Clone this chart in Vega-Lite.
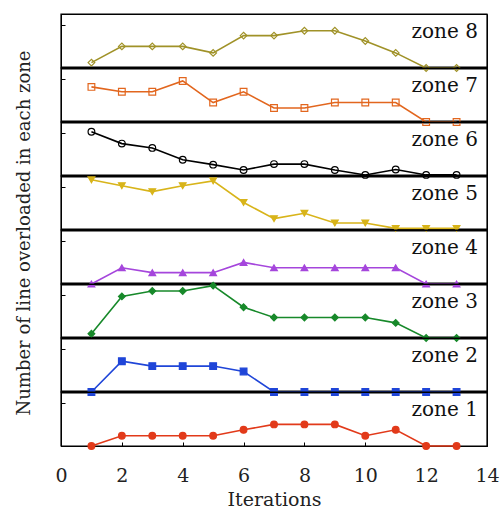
{
  "$schema": "https://vega.github.io/schema/vega-lite/v6.json",
  "padding": {"left": 15, "top": 12, "right": 14, "bottom": 3},
  "background": "white",
  "bounds": "flush",
  "config": {
    "font": "DejaVu Serif",
    "view": {"stroke": "black", "strokeWidth": 1},
    "axis": {"labelFont": "DejaVu Serif", "titleFont": "DejaVu Serif", "labelColor": "#222", "titleColor": "#222", "domainColor": "black", "tickColor": "black", "grid": false, "titleFontWeight": "normal"}
  },
  "data": {"values": [
    {"zone":"zone 8","iter":1,"v":0.5},{"zone":"zone 8","iter":2,"v":2},{"zone":"zone 8","iter":3,"v":2},{"zone":"zone 8","iter":4,"v":2},{"zone":"zone 8","iter":5,"v":1.4},{"zone":"zone 8","iter":6,"v":3},{"zone":"zone 8","iter":7,"v":3},{"zone":"zone 8","iter":8,"v":3.45},{"zone":"zone 8","iter":9,"v":3.45},{"zone":"zone 8","iter":10,"v":2.5},{"zone":"zone 8","iter":11,"v":1.4},{"zone":"zone 8","iter":12,"v":0},{"zone":"zone 8","iter":13,"v":0},
    {"zone":"zone 7","iter":1,"v":3.25},{"zone":"zone 7","iter":2,"v":2.8},{"zone":"zone 7","iter":3,"v":2.8},{"zone":"zone 7","iter":4,"v":3.8},{"zone":"zone 7","iter":5,"v":1.8},{"zone":"zone 7","iter":6,"v":2.8},{"zone":"zone 7","iter":7,"v":1.3},{"zone":"zone 7","iter":8,"v":1.3},{"zone":"zone 7","iter":9,"v":1.8},{"zone":"zone 7","iter":10,"v":1.8},{"zone":"zone 7","iter":11,"v":1.8},{"zone":"zone 7","iter":12,"v":0},{"zone":"zone 7","iter":13,"v":0},
    {"zone":"zone 6","iter":1,"v":4.1},{"zone":"zone 6","iter":2,"v":3.0},{"zone":"zone 6","iter":3,"v":2.6},{"zone":"zone 6","iter":4,"v":1.5},{"zone":"zone 6","iter":5,"v":1.05},{"zone":"zone 6","iter":6,"v":0.55},{"zone":"zone 6","iter":7,"v":1.1},{"zone":"zone 6","iter":8,"v":1.1},{"zone":"zone 6","iter":9,"v":0.55},{"zone":"zone 6","iter":10,"v":0.1},{"zone":"zone 6","iter":11,"v":0.6},{"zone":"zone 6","iter":12,"v":0.1},{"zone":"zone 6","iter":13,"v":0.1},
    {"zone":"zone 5","iter":1,"v":4.65},{"zone":"zone 5","iter":2,"v":4.1},{"zone":"zone 5","iter":3,"v":3.55},{"zone":"zone 5","iter":4,"v":4.1},{"zone":"zone 5","iter":5,"v":4.55},{"zone":"zone 5","iter":6,"v":2.55},{"zone":"zone 5","iter":7,"v":1.05},{"zone":"zone 5","iter":8,"v":1.55},{"zone":"zone 5","iter":9,"v":0.65},{"zone":"zone 5","iter":10,"v":0.65},{"zone":"zone 5","iter":11,"v":0.15},{"zone":"zone 5","iter":12,"v":0.15},{"zone":"zone 5","iter":13,"v":0.15},
    {"zone":"zone 4","iter":1,"v":0},{"zone":"zone 4","iter":2,"v":1.5},{"zone":"zone 4","iter":3,"v":1.05},{"zone":"zone 4","iter":4,"v":1.05},{"zone":"zone 4","iter":5,"v":1.05},{"zone":"zone 4","iter":6,"v":2.0},{"zone":"zone 4","iter":7,"v":1.5},{"zone":"zone 4","iter":8,"v":1.5},{"zone":"zone 4","iter":9,"v":1.5},{"zone":"zone 4","iter":10,"v":1.5},{"zone":"zone 4","iter":11,"v":1.5},{"zone":"zone 4","iter":12,"v":0},{"zone":"zone 4","iter":13,"v":0},
    {"zone":"zone 3","iter":1,"v":0.4},{"zone":"zone 3","iter":2,"v":3.85},{"zone":"zone 3","iter":3,"v":4.35},{"zone":"zone 3","iter":4,"v":4.35},{"zone":"zone 3","iter":5,"v":4.85},{"zone":"zone 3","iter":6,"v":2.85},{"zone":"zone 3","iter":7,"v":1.9},{"zone":"zone 3","iter":8,"v":1.9},{"zone":"zone 3","iter":9,"v":1.9},{"zone":"zone 3","iter":10,"v":1.9},{"zone":"zone 3","iter":11,"v":1.4},{"zone":"zone 3","iter":12,"v":0},{"zone":"zone 3","iter":13,"v":0},
    {"zone":"zone 2","iter":1,"v":0},{"zone":"zone 2","iter":2,"v":2.85},{"zone":"zone 2","iter":3,"v":2.4},{"zone":"zone 2","iter":4,"v":2.4},{"zone":"zone 2","iter":5,"v":2.4},{"zone":"zone 2","iter":6,"v":1.9},{"zone":"zone 2","iter":7,"v":0},{"zone":"zone 2","iter":8,"v":0},{"zone":"zone 2","iter":9,"v":0},{"zone":"zone 2","iter":10,"v":0},{"zone":"zone 2","iter":11,"v":0},{"zone":"zone 2","iter":12,"v":0},{"zone":"zone 2","iter":13,"v":0},
    {"zone":"zone 1","iter":1,"v":0},{"zone":"zone 1","iter":2,"v":0.95},{"zone":"zone 1","iter":3,"v":0.95},{"zone":"zone 1","iter":4,"v":0.95},{"zone":"zone 1","iter":5,"v":0.95},{"zone":"zone 1","iter":6,"v":1.5},{"zone":"zone 1","iter":7,"v":2},{"zone":"zone 1","iter":8,"v":2},{"zone":"zone 1","iter":9,"v":2},{"zone":"zone 1","iter":10,"v":0.95},{"zone":"zone 1","iter":11,"v":1.5},{"zone":"zone 1","iter":12,"v":0},{"zone":"zone 1","iter":13,"v":0}
  ]},
  "facet": {
    "row": {
      "field": "zone", "type": "nominal",
      "sort": ["zone 8","zone 7","zone 6","zone 5","zone 4","zone 3","zone 2","zone 1"],
      "title": "Number of line overloaded in each zone",
      "header": {"labels": false, "titleFont": "DejaVu Serif", "titleFontSize": 18, "titleFontWeight": "normal", "titleColor": "#222", "titlePadding": 16}
    }
  },
  "spacing": 0,
  "spec": {
    "width": 426,
    "height": 54,
    "layer": [
      {
        "transform": [{"filter": "datum.iter == 1"}],
        "mark": {"type": "rect", "fill": null, "fillOpacity": 0, "stroke": "black", "strokeWidth": 1.2},
        "encoding": {"x": {"datum": 0, "type": "quantitative"}, "x2": {"datum": 14}, "y": {"datum": 0, "type": "quantitative"}, "y2": {"datum": 5}}
      },
      {
        "transform": [{"filter": "datum.iter == 1 && datum.zone != 'zone 1'"}],
        "mark": {"type": "rule", "color": "black", "strokeWidth": 3},
        "encoding": {"y": {"datum": 0, "type": "quantitative"}}
      },
      {
        "mark": {"type": "line", "strokeWidth": 1.6},
        "encoding": {
          "x": {"field": "iter", "type": "quantitative", "scale": {"domain": [0, 14], "nice": false},
                "axis": {"title": "Iterations", "titleFontSize": 19, "labelFontSize": 19, "values": [0,0.5,1,1.5,2,2.5,3,3.5,4,4.5,5,5.5,6,6.5,7,7.5,8,8.5,9,9.5,10,10.5,11,11.5,12,12.5,13,13.5,14], "labelExpr": "datum.value % 2 == 0 ? datum.label : ''", "tickSize": -4, "labelPadding": 24, "titlePadding": 5, "labelFlush": false}},
          "y": {"field": "v", "type": "quantitative", "scale": {"domain": [0, 5], "nice": false},
                "axis": {"title": null, "labels": false, "values": [0,1,2,3,4], "tickSize": -4}},
          "color": {"field": "zone", "type": "nominal", "legend": null,
                    "scale": {"domain": ["zone 8","zone 7","zone 6","zone 5","zone 4","zone 3","zone 2","zone 1"],
                              "range": ["#a09228","#e2661e","#000000","#d8b41a","#a546dc","#17892a","#1f45d8","#e23a1a"]}}
        }
      },
      {
        "mark": {"type": "point", "size": 45, "strokeWidth": 1.2, "opacity": 1},
        "encoding": {
          "x": {"field": "iter", "type": "quantitative"},
          "y": {"field": "v", "type": "quantitative"},
          "color": {"field": "zone", "type": "nominal", "legend": null},
          "shape": {"field": "zone", "type": "nominal", "legend": null,
                    "scale": {"domain": ["zone 8","zone 7","zone 6","zone 5","zone 4","zone 3","zone 2","zone 1"],
                              "range": ["diamond","square","circle","triangle-down","triangle-up","diamond","square","circle"]}},
          "fill": {"field": "zone", "type": "nominal", "legend": null,
                   "scale": {"domain": ["zone 8","zone 7","zone 6","zone 5","zone 4","zone 3","zone 2","zone 1"],
                             "range": ["transparent","transparent","transparent","#d8b41a","#a546dc","#17892a","#1f45d8","#e23a1a"]}}
        }
      },
      {
        "transform": [{"filter": "datum.iter == 1"}],
        "mark": {"type": "text", "align": "right", "baseline": "middle", "font": "DejaVu Serif", "fontSize": 20, "color": "#111"},
        "encoding": {
          "x": {"datum": 13.7, "type": "quantitative"},
          "y": {"datum": 3.3, "type": "quantitative"},
          "text": {"field": "zone", "type": "nominal"}
        }
      }
    ]
  }
}
